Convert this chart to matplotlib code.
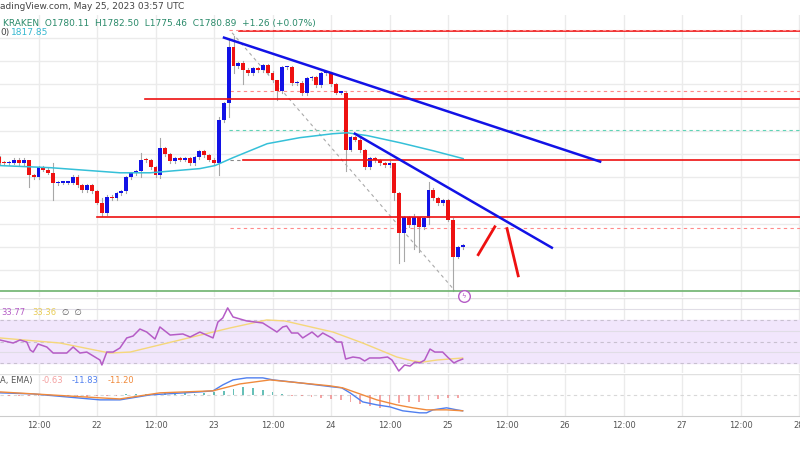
import numpy as np
import matplotlib
matplotlib.use("Agg")
import matplotlib.pyplot as plt
from matplotlib.patches import Rectangle

# ---------------- data ----------------
# hourly closes, first candle at hour 4 (hours counted from May 21 00:00)
first_hour = 4
first_open = 1818.5
closes = [
    1816.3, 1815.9, 1816.3, 1817.6, 1815.9, 1817.6, 1810.8, 1809.9, 1814.2, 1813.3,
    1812.0, 1807.3, 1807.7, 1807.7, 1807.7, 1810.3, 1806.5, 1804.3, 1806.5, 1803.9,
    1799.1, 1794.4, 1801.7, 1800.9, 1803.0, 1803.9, 1809.9, 1811.6, 1812.5, 1817.6,
    1817.2, 1814.2, 1810.8, 1822.4, 1819.8, 1816.8, 1818.1, 1817.6, 1818.1, 1815.9,
    1818.5, 1821.1, 1819.4, 1817.6, 1816.3, 1834.4, 1841.7, 1865.8, 1857.6, 1858.9,
    1856.3, 1854.6, 1856.8, 1855.9, 1858.1, 1855.0, 1851.6, 1846.9, 1857.2, 1857.2,
    1850.3, 1850.7, 1846.0, 1852.5, 1852.9, 1849.5, 1854.6, 1854.6, 1849.9, 1846.4,
    1846.4, 1821.9, 1827.1, 1826.2, 1821.5, 1814.2, 1818.1, 1817.2, 1815.9, 1815.1,
    1816.3, 1803.0, 1786.2, 1792.7, 1789.3, 1792.7, 1788.4, 1792.3, 1804.7, 1800.9,
    1798.7, 1800.0, 1791.8, 1775.9, 1779.8, 1780.9,
]
# notable wicks: candle index -> (high, low)
wicks = {
    6: (1815.0, 1806.0), 11: (1816.0, 1800.0), 21: (1801.0, 1793.5),
    29: (1820.5, 1810.0), 33: (1827.0, 1809.8), 45: (1836.0, 1811.0),
    47: (1868.8, 1836.0), 48: (1870.5, 1855.0), 50: (1860.0, 1850.0),
    57: (1852.0, 1843.0), 71: (1847.0, 1812.8), 81: (1816.0, 1800.0),
    82: (1803.5, 1773.2), 83: (1793.5, 1774.0), 85: (1794.0, 1779.0),
    86: (1793.0, 1778.0), 88: (1808.1, 1790.0), 93: (1792.5, 1761.2),
}

ema_hours = [4.1, 14.4, 28.7, 34.9, 45.1, 48.2, 51.9, 58.9, 65.6, 72.4, 75.3, 79.4, 86.2, 92.9, 99.1]
ema_vals = [1815.0, 1814.1, 1811.9, 1811.9, 1813.7, 1815.0, 1818.4, 1824.4, 1827.0, 1828.7,
            1829.1, 1827.9, 1824.8, 1821.4, 1818.0]

rsi_hours = [4.1, 6.8, 8.2, 9.6, 10.3, 10.9, 11.9, 13.7, 15.0, 17.8, 19.1, 20.5, 21.9, 24.6, 25.0,
             26.0, 27.3, 28.7, 30.1, 31.4, 32.8, 34.2, 35.9, 36.9, 39.0, 41.6, 43.1, 45.1, 47.8,
             48.8, 49.8, 50.8, 51.9, 54.7, 58.0, 60.9, 62.1, 62.9, 63.9, 65.2, 66.2, 68.1, 69.3,
             70.3, 72.2, 73.2, 74.2, 75.0, 76.5, 77.9, 78.9, 79.9, 82.0, 83.6, 84.5, 85.9, 87.1,
             88.2, 89.2, 90.2, 91.2, 92.3, 93.3, 94.9, 95.9, 97.2, 98.0, 99.0]
rsi_vals = [51.4, 48.6, 51.4, 49.5, 42.1, 40.2, 47.7, 44.9, 39.3, 39.3, 44.9, 39.3, 40.2, 32.8, 28.2,
            40.2, 40.2, 44.0, 53.3, 55.1, 61.6, 58.8, 52.3, 63.5, 56.0, 57.0, 54.2, 58.8, 53.3,
            68.1, 71.9, 81.2, 72.8, 69.1, 67.2, 58.8, 63.5, 64.4, 57.9, 57.9, 53.3, 58.8, 54.2,
            57.9, 53.3, 49.5, 49.5, 33.7, 35.6, 34.7, 31.9, 34.7, 34.7, 35.6, 32.8, 22.6, 28.2,
            27.2, 30.9, 30.1, 32.8, 43.0, 40.2, 40.2, 35.6, 30.1, 31.9, 33.7]
rsima_hours = [4.1, 16.4, 26.6, 30.8, 41.0, 51.3, 58.8, 62.5, 72.4, 78.5, 82.0, 85.5, 88.8, 90.8, 93.7, 99.0]
rsima_vals = [53.3, 48.6, 39.3, 40.2, 51.4, 62.6, 70.0, 69.1, 58.8, 48.6, 42.1, 35.6, 31.9, 30.9, 32.8, 34.7]

macd_hours = [4.1, 10.9, 24.6, 28.7, 34.9, 45.1, 47.8, 49.8, 51.9, 54.7, 58.0, 60.1, 65.6, 72.4,
              74.2, 75.9, 78.5, 81.4, 84.1, 86.7, 90.2, 91.6, 92.9, 95.7, 97.8, 99.0]
macd_vals = [1.5, 0.7, -3.7, -3.7, 0.0, 2.2, 3.0, 7.4, 11.1, 12.6, 12.6, 11.1, 8.9, 5.9,
             5.2, 1.5, -5.2, -7.4, -8.9, -11.8, -13.3, -13.3, -11.1, -9.6, -11.1, -11.8]
signal_hours = [4.1, 24.6, 28.7, 36.9, 47.8, 53.3, 59.5, 65.6, 71.8, 74.4, 77.3, 81.4, 85.5,
                88.8, 91.6, 95.7, 99.0]
signal_vals = [2.2, -2.2, -3.0, 1.5, 3.0, 8.1, 11.1, 8.9, 6.7, 5.2, 1.5, -3.7, -7.4,
               -9.6, -11.1, -11.1, -11.8]
hist_hours = list(range(4, 100, 2))
hist_vals = [-0.5, -0.7, -0.5, -0.8, -1, -0.7, -1.2, -0.8, -1, -1.5, -1, -0.8, -0.5,
             0.4, 0.6, 0.8, 1, 1.2, 1.5, 1.2, 1, 1.5, 2, 3, 4.5, 5.5, 5, 3.5,
             2, 1, -0.5, -1, -1.5, -2, -3, -4, -5, -7, -8, -10, -8, -6, -5, -5, -4, -3, -2, -2]

tick_hours = [12, 24, 36, 48, 60, 72, 84, 96, 108, 120, 132, 144, 156, 168]
tick_labels = ["12:00", "22", "12:00", "23", "12:00", "24", "12:00", "25",
               "12:00", "26", "12:00", "27", "12:00", "28"]

XMIN, XMAX = 4.1, 168.2
BLUE, RED = "#1212e6", "#ee1111"
GRID = "#ebebeb"

fig = plt.figure(figsize=(8, 4.5), dpi=100)
fig.patch.set_facecolor("white")
ax_rsi = fig.add_axes([0, 0.171, 1, 0.167])
ax_macd = fig.add_axes([0, 0.076, 1, 0.093])
ax = fig.add_axes([0, 0.34, 1, 0.627])
ax.set_zorder(5)
ax.patch.set_alpha(0)

for a in (ax, ax_rsi, ax_macd):
    a.set_xlim(XMIN, XMAX)
    for s in a.spines.values():
        s.set_visible(False)
    a.set_xticks(tick_hours)
    a.tick_params(length=0, labelbottom=False, labelleft=False)
    a.set_yticks([])
    for t in tick_hours:
        a.axvline(t, color=GRID, lw=1, zorder=0)

ax_macd.spines["bottom"].set_visible(True)
ax_macd.spines["bottom"].set_color("#cccccc")
ax_macd.tick_params(labelbottom=True, labelsize=6, labelcolor="#555555", pad=4)
ax_macd.set_xticklabels(tick_labels)

# ---------------- main pane ----------------
ax.set_ylim(1758.5, 1879.8)
for p in range(1770, 1880, 10):
    ax.axhline(p, color=GRID, lw=1, zorder=0)

opens = [first_open] + closes[:-1]
for i, (o, c) in enumerate(zip(opens, closes)):
    h = first_hour + i
    hi, lo = wicks.get(i, (max(o, c) + 0.6, min(o, c) - 0.6))
    col = BLUE if c >= o else RED
    ax.plot([h, h], [lo, hi], color="#a8a8a8", lw=0.8, zorder=2)
    body = max(abs(c - o), 0.5)
    ax.add_patch(Rectangle((h - 0.4, min(o, c)), 0.8, body, color=col, zorder=3, lw=0))

ax.plot(ema_hours, ema_vals, color="#35c0d8", lw=1.1, zorder=4)

# support / resistance levels
ax.plot([53.1, XMAX], [1873.0, 1873.0], color=RED, lw=1.2, zorder=5)
ax.plot([51.0, XMAX], [1873.4, 1873.4], color="#ff8a8a", lw=0.8, ls=(0, (3, 3)), zorder=5)
ax.plot([33.8, XMAX], [1843.8, 1843.8], color=RED, lw=1.2, zorder=5)
ax.plot([51.3, XMAX], [1847.2, 1847.2], color="#ff8a8a", lw=0.8, ls=(0, (3, 3)), zorder=1)
ax.plot([51.1, XMAX], [1830.4, 1830.4], color="#5fd3b5", lw=0.8, ls=(0, (3, 3)), zorder=1)
ax.plot([51.3, 54.0], [1817.5, 1817.5], color="#888888", lw=0.8, ls=(0, (3, 3)), zorder=1)
ax.plot([54.0, XMAX], [1817.5, 1817.5], color=RED, lw=1.2, zorder=5)
ax.plot([24.0, XMAX], [1793.0, 1793.0], color=RED, lw=1.2, zorder=5)
ax.plot([51.3, XMAX], [1788.3, 1788.3], color="#ff8a8a", lw=0.8, ls=(0, (3, 3)), zorder=1)
ax.axhline(1761.2, color="#6db36d", lw=1.2, zorder=5)

# trend lines and projected path
ax.plot([51.7, 97.4], [1872.1, 1761.2], color="#aaaaaa", lw=0.8, ls=(0, (3, 3)), zorder=2)
ax.plot([50.05, 127.2], [1870.0, 1816.7], color=BLUE, lw=1.8, zorder=6)
ax.plot([76.9, 117.3], [1828.7, 1779.7], color=BLUE, lw=1.8, zorder=6)
ax.plot([102.2, 105.6], [1776.7, 1788.7], color=RED, lw=2, zorder=6)
ax.plot([108.1, 110.4], [1787.9, 1767.6], color=RED, lw=2, zorder=6)

# header text (drawn above the main pane)
fig.text(0.0, 0.985, "adingView.com, May 25, 2023 03:57 UTC", fontsize=6.5, color="#444444",
         va="center", ha="left", zorder=10)
fig.text(0.004, 0.948, "KRAKEN  O1780.11  H1782.50  L1775.46  C1780.89  +1.26 (+0.07%)",
         fontsize=6.5, color="#2a8a6a", va="center", ha="left", zorder=10)
fig.text(0.0, 0.928, "0)", fontsize=6.5, color="#444444", va="center", ha="left", zorder=10)
fig.text(0.014, 0.928, "1817.85", fontsize=6.5, color="#35b8d0", va="center", ha="left", zorder=10)

# ---------------- RSI pane ----------------
ax_rsi.set_ylim(20.7, 90.5)
ax_rsi.axhspan(30, 70, color="#f1e6fc", zorder=0)
for lv in (30, 50, 70):
    ax_rsi.axhline(lv, color="#c8c0d0", lw=0.8, ls=(0, (3, 3)), zorder=1)
for lv in (40, 60, 80):
    ax_rsi.axhline(lv, color="#e0dde6", lw=0.8, zorder=1)
ax_rsi.axhline(90.3, color="#e0e0e0", lw=1)
ax_rsi.plot(rsima_hours, rsima_vals, color="#f5d77a", lw=1.0, zorder=3)
ax_rsi.plot(rsi_hours, rsi_vals, color="#b55cc6", lw=1.1, zorder=4)
ax_rsi.text(0.001, 0.8, "33.77", transform=ax_rsi.transAxes, fontsize=6, color="#b55cc6", va="center")
ax_rsi.text(0.04, 0.8, "33.36", transform=ax_rsi.transAxes, fontsize=6, color="#e8cc55", va="center")
ax_rsi.text(0.078, 0.8, "\u2205  \u2205", transform=ax_rsi.transAxes, fontsize=6, color="#555555", va="center")

# alert icon under the last candle
ax.scatter([99.2], [1758.9], s=70, facecolors="white", edgecolors="#b55cc6",
           linewidths=1.0, zorder=7, clip_on=False)
ax.text(99.2, 1758.9, "\u03df", fontsize=5, color="#b55cc6",
        ha="center", va="center", clip_on=False, zorder=8)

# ---------------- MACD pane ----------------
ax_macd.set_ylim(-15.5, 15.5)
ax_macd.axhline(0, color="#d8d8d8", lw=0.8, ls=(0, (3, 3)), zorder=1)
ax_macd.axhline(15.3, color="#e0e0e0", lw=1)
hist_cols = ["#26a69a" if v >= 0 else "#f08080" for v in hist_vals]
ax_macd.bar(hist_hours, hist_vals, width=0.35, color=hist_cols, alpha=0.7, zorder=2)
ax_macd.plot(macd_hours, macd_vals, color="#4f7fef", lw=1.0, zorder=3)
ax_macd.plot(signal_hours, signal_vals, color="#f08a3c", lw=1.0, zorder=4)
ax_macd.text(0.0, 0.85, "A, EMA)", transform=ax_macd.transAxes, fontsize=6, color="#555555", va="center")
ax_macd.text(0.052, 0.85, "-0.63", transform=ax_macd.transAxes, fontsize=6, color="#f4a0a0", va="center")
ax_macd.text(0.09, 0.85, "-11.83", transform=ax_macd.transAxes, fontsize=6, color="#4f7fef", va="center")
ax_macd.text(0.135, 0.85, "-11.20", transform=ax_macd.transAxes, fontsize=6, color="#f08a3c", va="center")

fig.savefig("out.png", dpi=100, facecolor="white")
